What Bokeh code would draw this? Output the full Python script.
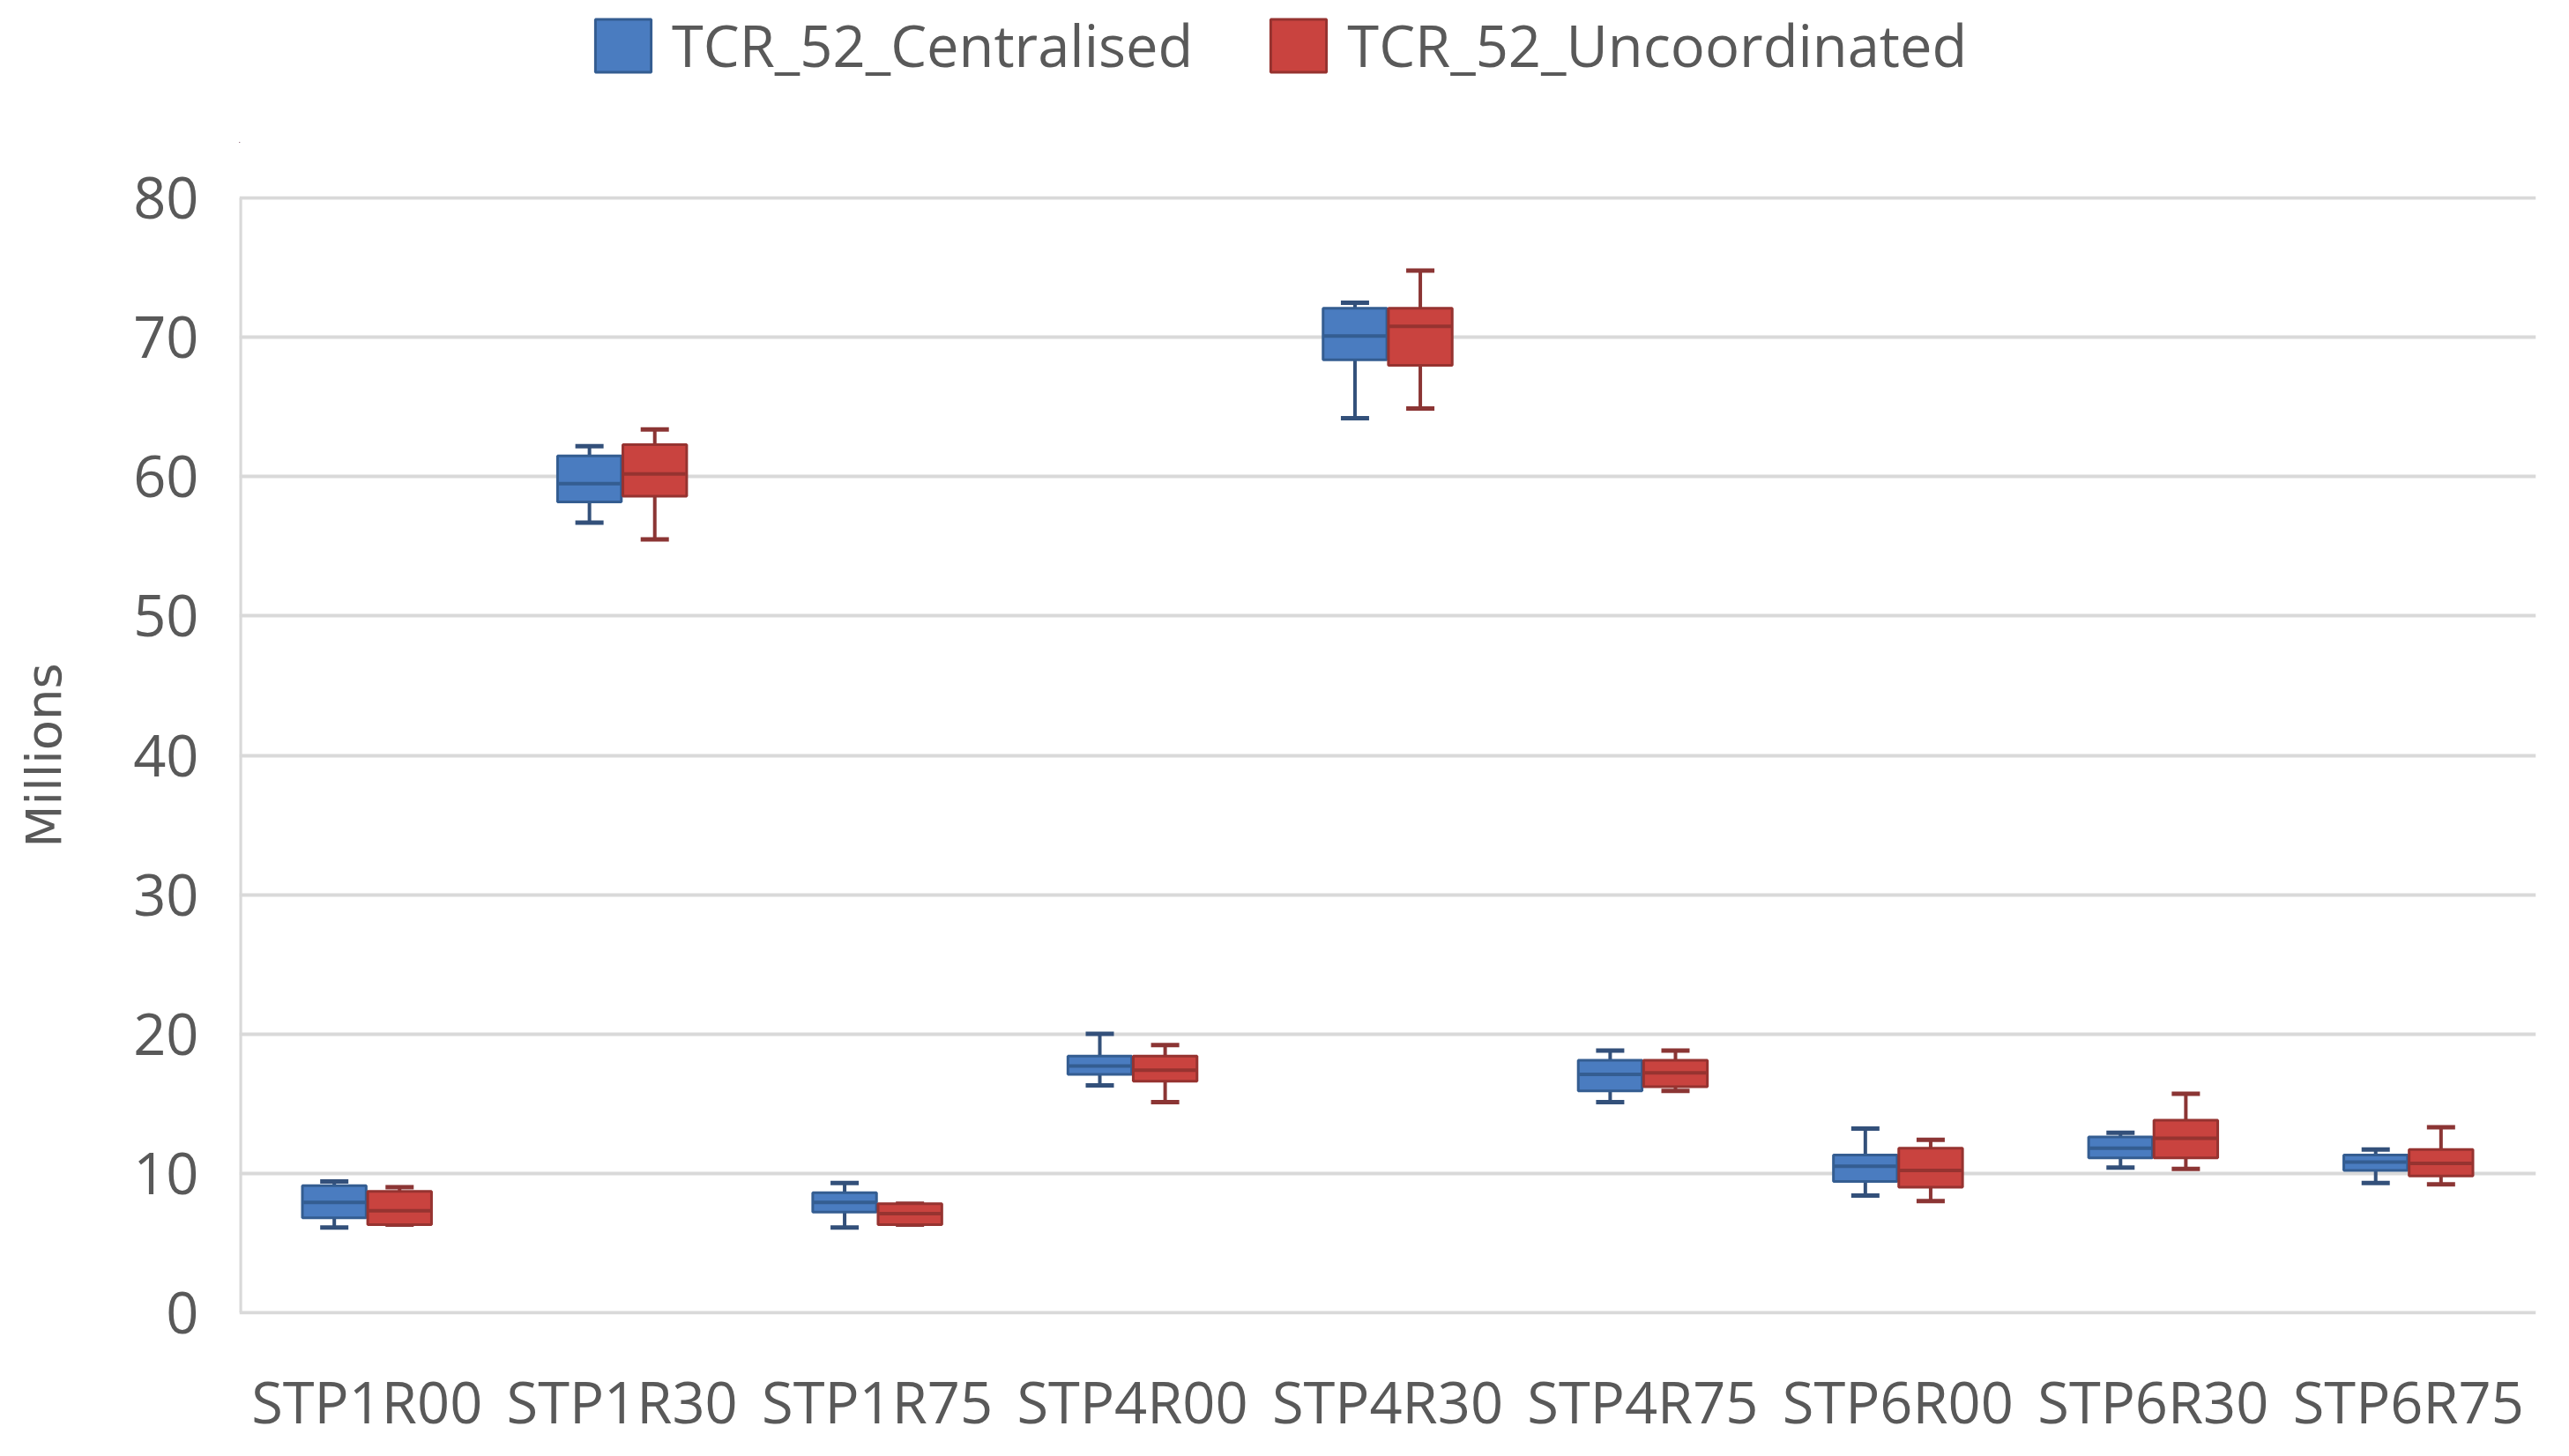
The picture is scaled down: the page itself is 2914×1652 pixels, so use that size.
from bokeh.plotting import figure
from bokeh.models import ColumnDataSource, FactorRange, Range1d, Legend, LegendItem
from bokeh.layouts import column
from bokeh.transform import dodge
from bokeh.embed import file_html
from bokeh.resources import INLINE

categories = ["STP1R00", "STP1R30", "STP1R75", "STP4R00", "STP4R30",
              "STP4R75", "STP6R00", "STP6R30", "STP6R75"]

# TCR_52_Centralised (millions)
cen_min = [6.1, 56.7, 6.1, 16.3, 64.2, 15.1, 8.4, 10.4, 9.3]
cen_q1  = [6.8, 58.2, 7.2, 17.1, 68.4, 15.9, 9.4, 11.1, 10.2]
cen_med = [7.9, 59.5, 7.9, 17.7, 70.1, 17.1, 10.5, 11.8, 10.8]
cen_q3  = [9.1, 61.5, 8.6, 18.4, 72.1, 18.1, 11.3, 12.6, 11.3]
cen_max = [9.4, 62.2, 9.3, 20.0, 72.5, 18.8, 13.2, 12.9, 11.7]

# TCR_52_Uncoordinated (millions)
unc_min = [6.3, 55.5, 6.3, 15.1, 64.9, 15.9, 8.0, 10.3, 9.2]
unc_q1  = [6.3, 58.6, 6.3, 16.6, 68.0, 16.2, 9.0, 11.1, 9.8]
unc_med = [7.3, 60.2, 7.1, 17.4, 70.8, 17.2, 10.2, 12.5, 10.7]
unc_q3  = [8.7, 62.3, 7.8, 18.4, 72.1, 18.1, 11.8, 13.8, 11.7]
unc_max = [9.0, 63.4, 7.8, 19.2, 74.8, 18.8, 12.4, 15.7, 13.3]

y_ticks = [0, 10, 20, 30, 40, 50, 60, 70, 80]
series_names = ["TCR_52_Centralised", "TCR_52_Uncoordinated"]

TEXT = "#595959"
GRID = "#d9d9d9"
W = 2898
TOP_H = 162
MAIN_H = 1636 - TOP_H

p = figure(x_range=FactorRange(*categories), y_range=Range1d(-0.15, 80.15),
           width=W, height=MAIN_H, output_backend="svg", toolbar_location=None,
           min_border_left=271, min_border_right=22, min_border_top=60,
           min_border_bottom=141)
p.outline_line_color = None
p.background_fill_color = "white"
p.border_fill_color = "white"

series = [
    (series_names[0], -0.128, "#4a7cc0", "#345d91", "#33507a",
     cen_min, cen_q1, cen_med, cen_q3, cen_max),
    (series_names[1], 0.128, "#c9433f", "#963330", "#8b3534",
     unc_min, unc_q1, unc_med, unc_q3, unc_max),
]

# left border line of the plot area (from first to last y tick)
border_src = ColumnDataSource(dict(c=[categories[0]], y0=[y_ticks[0]], y1=[y_ticks[-1]]))
bx = dodge("c", -0.496, range=p.x_range)
p.segment(x0=bx, y0="y0", x1=bx, y1="y1", source=border_src,
          line_color=GRID, line_width=4)

bw = 0.25
for name, off, fill, edge, wcol, mn, q1, md, q3, mx in series:
    src = ColumnDataSource(dict(cat=categories, mn=mn, q1=q1, md=md, q3=q3, mx=mx))
    xc = dodge("cat", off, range=p.x_range)
    # whiskers
    p.segment(x0=xc, y0="q3", x1=xc, y1="mx", source=src, line_color=wcol, line_width=4)
    p.segment(x0=xc, y0="q1", x1=xc, y1="mn", source=src, line_color=wcol, line_width=4)
    p.scatter(x=xc, y="mx", source=src, marker="dash", size=32, line_color=wcol, line_width=5)
    p.scatter(x=xc, y="mn", source=src, marker="dash", size=32, line_color=wcol, line_width=5)
    # box
    p.vbar(x=xc, top="q3", bottom="q1", width=bw, source=src,
           fill_color=fill, line_color=edge, line_width=3)
    # median
    p.segment(x0=dodge("cat", off - bw / 2 + 0.004, range=p.x_range), y0="md",
              x1=dodge("cat", off + bw / 2 - 0.004, range=p.x_range), y1="md",
              source=src, line_color=edge, line_width=4)

# axes
p.yaxis.ticker = y_ticks
p.yaxis.major_label_text_font = "Open Sans"
p.yaxis.major_label_text_font_size = "65px"
p.yaxis.major_label_text_color = TEXT
p.yaxis.major_label_standoff = 40
p.yaxis.major_tick_line_color = None
p.yaxis.minor_tick_line_color = None
p.yaxis.axis_line_color = None
p.yaxis.axis_label = "Millions"
p.yaxis.axis_label_text_font = "DejaVu Sans"
p.yaxis.axis_label_text_font_style = "normal"
p.yaxis.axis_label_text_font_size = "56px"
p.yaxis.axis_label_text_color = TEXT
p.yaxis.axis_label_standoff = 66

p.xaxis.major_label_text_font = "Open Sans"
p.xaxis.major_label_text_font_size = "65px"
p.xaxis.major_label_text_color = TEXT
p.xaxis.major_label_standoff = 48
p.xaxis.major_tick_line_color = None
p.xaxis.minor_tick_line_color = None
p.xaxis.axis_line_color = None

p.xgrid.grid_line_color = None
p.ygrid.grid_line_color = GRID
p.ygrid.grid_line_width = 4

# legend strip above the chart
lg = figure(width=W, height=TOP_H, x_range=Range1d(0, 1), y_range=Range1d(0, 1),
            output_backend="svg", toolbar_location=None,
            min_border_left=0, min_border_right=0,
            min_border_top=0, min_border_bottom=0)
lg.axis.visible = False
lg.grid.visible = False
lg.outline_line_color = None
lg.border_fill_color = "white"
lg.background_fill_color = "white"
items = []
for name, off, fill, edge, wcol, *_ in series:
    r = lg.vbar(x=[-5], top=[-5], bottom=[-6], width=0.1,
                fill_color=fill, line_color=edge, line_width=3)
    items.append(LegendItem(label=name, renderers=[r]))
legend = Legend(items=items, orientation="horizontal", location=(396, 67),
                label_text_font="Open Sans", label_text_font_size="65px",
                label_text_color=TEXT, glyph_width=79, glyph_height=75,
                label_standoff=16, spacing=80, padding=0, margin=0,
                border_line_alpha=0, background_fill_alpha=0)
lg.add_layout(legend, "center")

layout = column(lg, p, spacing=0)
open("out.html", "w").write(file_html(layout, INLINE))
